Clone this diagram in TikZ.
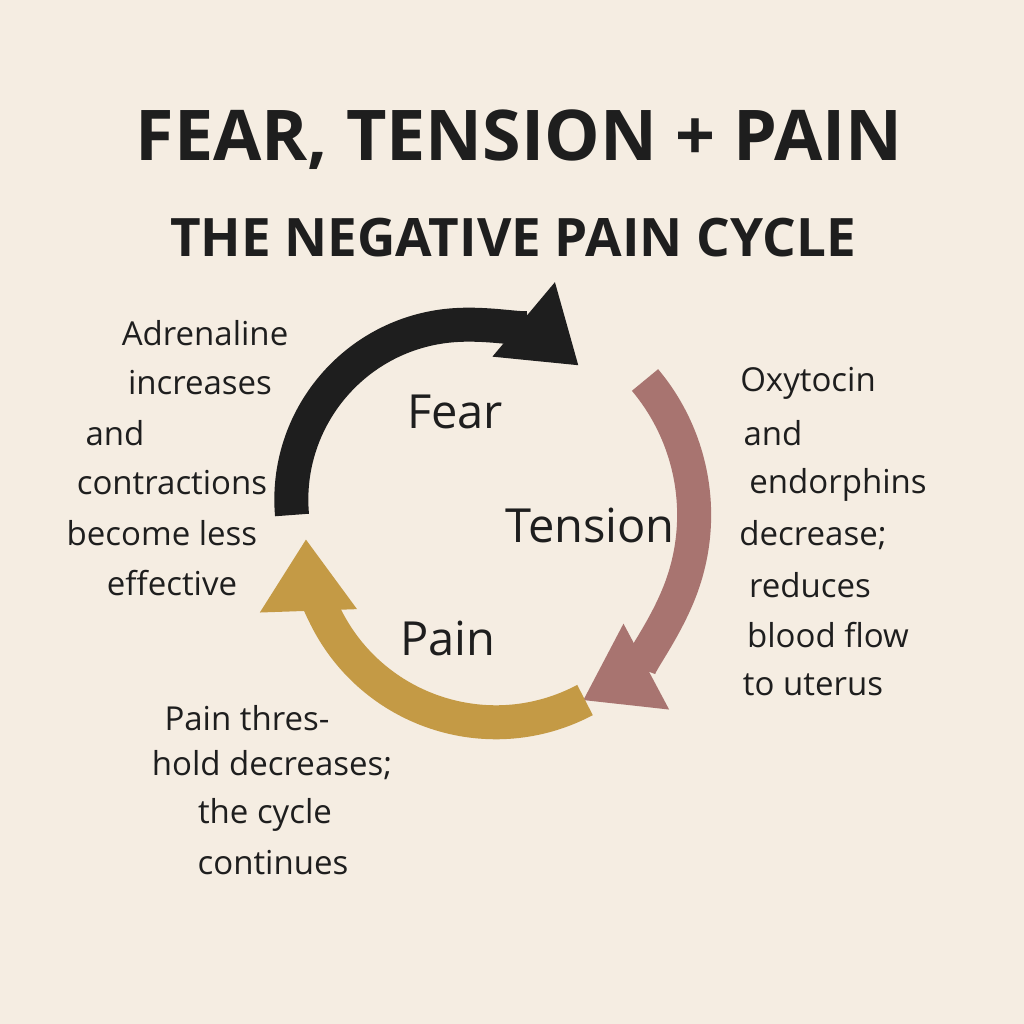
\documentclass[tikz,border=0pt]{standalone}
\usepackage{fontspec}
\setmainfont{Open Sans}
\usetikzlibrary{arrows.meta}
\definecolor{cyBg}{HTML}{F5EDE2}
\definecolor{cyBlack}{HTML}{1E1E1E}
\definecolor{cyRose}{HTML}{A87470}
\definecolor{cyGold}{HTML}{C49A45}
\tikzset{
    note/.style={font=\fontsize{33}{40}\selectfont, text=cyBlack, anchor=center, inner sep=0pt},
    stage/.style={font=\fontsize{47}{54}\selectfont, text=cyBlack, inner sep=0pt},
    loop/.style={line width=34pt, -{Triangle[width=92pt,length=72pt]}}
}
\begin{document}
\begin{tikzpicture}[x=1pt, y=-1pt]
  \fill[cyBg] (0,0) rectangle (1024,1024);
  \useasboundingbox (0,0) rectangle (1024,1024);
  % titles
  \node[font=\fontsize{70}{78}\selectfont\bfseries, text=cyBlack] (title) at (519,140) {FEAR, TENSION + PAIN};
  \node[font=\fontsize{53}{60}\selectfont\bfseries, text=cyBlack] (subtitle) at (513,238) {THE NEGATIVE PAIN CYCLE};
  % cycle arrows
  \draw[loop, cyBlack] (292,515) arc[start angle=-185, end angle=-50, radius=175];
  \draw[loop, cyRose] (645,380) arc[start angle=-40, end angle=62, radius=210];
  \draw[loop, cyGold] (585,700) arc[start angle=62, end angle=178, radius=190];
  % stages
  \node[stage] (fear) at (455,412) {Fear};
  \node[stage] (tension) at (590,525) {Tension};
  \node[stage] (pain) at (448,638) {Pain};
  % left notes
  \foreach \x/\y/\t in {205/333/Adrenaline, 200/383/increases, 115/433/and,
      172/483/contractions, 162/533/become less, 172/583/effective}
    \node[note] at (\x,\y) {\t};
  % right notes
  \foreach \x/\y/\t in {808/383/Oxytocin, 773/433/and, 838/485/endorphins,
      813/535/decrease;, 810/585/reduces, 828/635/blood flow, 813/685/to uterus}
    \node[note] at (\x,\y) {\t};
  % bottom notes
  \foreach \x/\y/\t in {247/718/Pain thres-, 272/765/hold decreases;, 265/815/the cycle, 273/863/continues}
    \node[note] at (\x,\y) {\t};
\end{tikzpicture}
\end{document}
